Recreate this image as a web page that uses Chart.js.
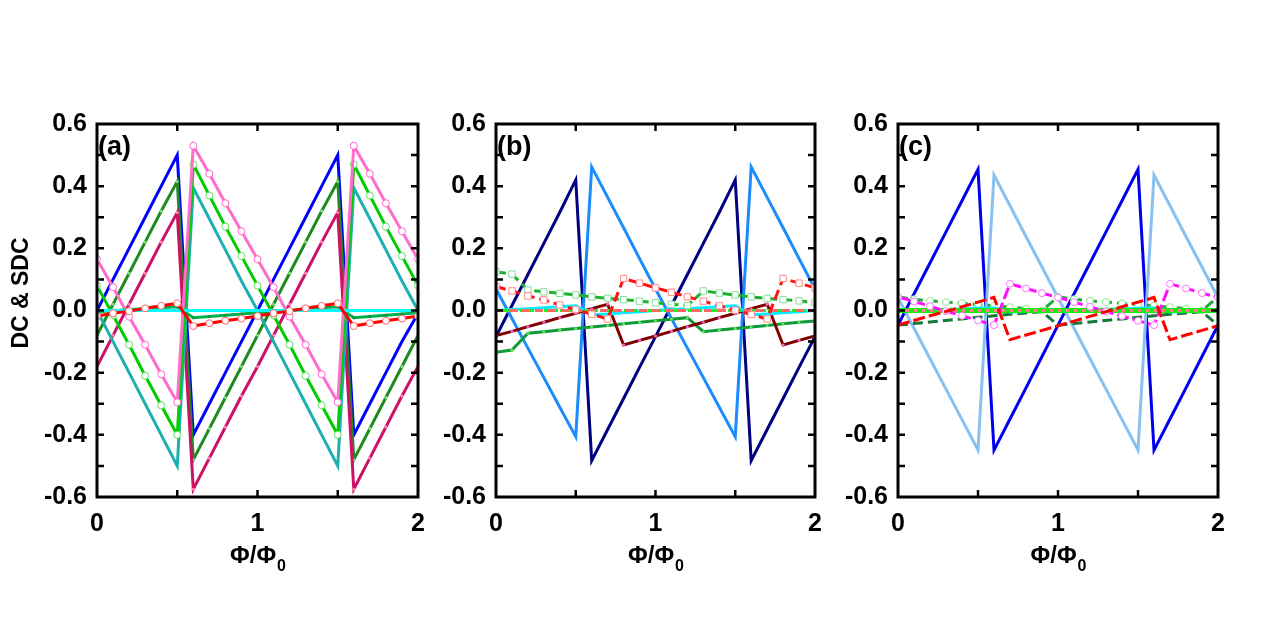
<!DOCTYPE html>
<html><head><meta charset="utf-8">
<script src="https://cdn.jsdelivr.net/npm/chart.js@4.4.0/dist/chart.umd.min.js"></script>
<style>
html,body{margin:0;padding:0;background:#fff;}
#wrap{position:relative;width:1286px;height:623px;overflow:hidden;}
canvas{position:absolute;left:0;top:0;}
</style></head><body>
<div id="wrap">
<canvas id="ca" width="1286" height="623"></canvas>
<canvas id="cb" width="1286" height="623"></canvas>
<canvas id="cc" width="1286" height="623"></canvas>
</div>
<script>
// ---------- shared axes ----------
const xValues = [0,0.1,0.2,0.3,0.4,0.5,0.6,0.7,0.8,0.9,1,1.1,1.2,1.3,1.4,1.5,1.6,1.7,1.8,1.9,2];
const xTickValues = [0,1,2];
const xTickMarks = [0.5,1,1.5];
const yTickValues = [-0.6,-0.4,-0.2,0,0.2,0.4,0.6];
const yTickMarks = [-0.5,-0.4,-0.3,-0.2,-0.1,0,0.1,0.2,0.3,0.4,0.5];
const panelLabels = ['(a)','(b)','(c)'];
const yTitle = 'DC & SDC';
const xTitleMain = 'Φ/Φ';
const xTitleSub = '0';

// ---------- panel (a) ----------
const aBlue      = [0.00,0.10,0.20,0.30,0.40,0.50,-0.40,-0.30,-0.20,-0.10,0.00,0.10,0.20,0.30,0.40,0.50,-0.40,-0.30,-0.20,-0.10,-0.01];
const aDarkGreen = [-0.08,0.02,0.12,0.22,0.32,0.415,-0.48,-0.38,-0.28,-0.18,-0.08,0.02,0.12,0.22,0.32,0.415,-0.48,-0.38,-0.28,-0.18,-0.08];
const aCrimson   = [-0.18,-0.08,0.02,0.12,0.22,0.315,-0.575,-0.475,-0.375,-0.275,-0.18,-0.08,0.02,0.12,0.22,0.315,-0.575,-0.475,-0.375,-0.275,-0.18];
const aTeal      = [0.00,-0.10,-0.20,-0.30,-0.40,-0.50,0.395,0.295,0.195,0.095,0.00,-0.10,-0.20,-0.30,-0.40,-0.50,0.395,0.295,0.195,0.095,0.00];
const aGreen     = [0.08,-0.015,-0.11,-0.21,-0.305,-0.40,0.47,0.37,0.27,0.175,0.08,-0.015,-0.11,-0.21,-0.305,-0.40,0.47,0.37,0.27,0.175,0.08];
const aPink      = [0.165,0.075,-0.02,-0.11,-0.205,-0.295,0.53,0.44,0.345,0.255,0.165,0.075,-0.02,-0.11,-0.205,-0.295,0.53,0.44,0.345,0.255,0.165];
const aRed       = [-0.018,-0.009,-0.002,0.007,0.015,0.023,-0.05,-0.041,-0.033,-0.026,-0.018,-0.009,-0.002,0.007,0.015,0.023,-0.05,-0.041,-0.033,-0.026,-0.018];
const aSeaGreen  = [-0.004,-0.001,0.003,0.006,0.009,0.012,-0.023,-0.019,-0.015,-0.011,-0.007,-0.003,0.001,0.005,0.009,0.012,-0.023,-0.019,-0.015,-0.011,-0.007];
const aCyan      = [0,0,0,0,0,0,0,0,0,0,0,0,0,0,0,0,0,0,0,0,0];

// ---------- panel (b) ----------
const bNavy      = [-0.084,0.016,0.116,0.216,0.316,0.42,-0.483,-0.383,-0.283,-0.183,-0.084,0.016,0.116,0.216,0.316,0.42,-0.483,-0.383,-0.283,-0.183,-0.084];
const bSky       = [0.069,-0.026,-0.121,-0.216,-0.311,-0.406,0.462,0.364,0.266,0.167,0.069,-0.026,-0.121,-0.216,-0.311,-0.406,0.462,0.364,0.266,0.167,0.069];
const bMaroon    = [-0.081,-0.067,-0.052,-0.038,-0.023,-0.009,0.006,0.02,-0.111,-0.096,-0.082,-0.067,-0.052,-0.038,-0.023,-0.009,0.006,0.02,-0.111,-0.096,-0.082];
const bRed       = [0.077,0.063,0.047,0.034,0.018,0.003,-0.012,-0.027,0.103,0.088,0.073,0.059,0.044,0.03,0.015,0.001,-0.013,-0.027,0.103,0.088,0.073];
const bGreenDash = [0.125,0.117,0.066,0.06,0.055,0.05,0.044,0.039,0.035,0.03,0.025,0.02,0.016,0.063,0.056,0.05,0.044,0.039,0.035,0.031,0.026];
const bGreen     = [-0.134,-0.127,-0.073,-0.068,-0.063,-0.058,-0.053,-0.048,-0.043,-0.038,-0.033,-0.028,-0.023,-0.068,-0.063,-0.058,-0.053,-0.048,-0.043,-0.038,-0.034];
const bCyan      = [0.0,0.003,0.006,0.009,0.012,0.015,-0.014,-0.011,-0.007,-0.004,0.0,0.003,0.006,0.009,0.012,0.015,-0.014,-0.011,-0.007,-0.004,0.0];
const bLime      = [0,0,0,0,0,0,0,0,0,0,0,0,0,0,0,0,0,0,0,0,0];
const bSalmon    = [0,0,0,0,0,0,0,0,0,0,0,0,0,0,0,0,0,0,0,0,0];

// ---------- panel (c) ----------
const cBlue      = [-0.047,0.053,0.153,0.253,0.353,0.454,-0.449,-0.349,-0.249,-0.148,-0.047,0.053,0.153,0.253,0.353,0.454,-0.449,-0.349,-0.249,-0.148,-0.047];
const cLightBlue = [0.041,-0.057,-0.155,-0.253,-0.351,-0.449,0.436,0.337,0.238,0.14,0.041,-0.057,-0.155,-0.253,-0.351,-0.449,0.436,0.337,0.238,0.14,0.041];
const cRed       = [-0.047,-0.032,-0.017,-0.003,0.012,0.027,0.042,-0.094,-0.079,-0.064,-0.049,-0.034,-0.019,-0.004,0.012,0.027,0.042,-0.094,-0.079,-0.064,-0.049];
const cMagenta   = [0.044,0.029,0.014,-0.002,-0.017,-0.032,-0.047,0.086,0.071,0.056,0.042,0.027,0.012,-0.003,-0.018,-0.033,-0.047,0.086,0.071,0.056,0.042];
const cGreenDash = [0.044,0.036,0.031,0.027,0.023,0.019,0.015,0.011,0.006,0.0,0.044,0.036,0.031,0.027,0.023,0.019,0.015,0.011,0.006,0.0,0.044];
const cDarkGreen = [-0.047,-0.042,-0.037,-0.032,-0.027,-0.022,-0.017,-0.012,-0.008,-0.004,-0.047,-0.042,-0.037,-0.032,-0.027,-0.022,-0.017,-0.012,-0.008,-0.004,-0.047];
const cLime      = [0,0,0,0,0,0,0,0,0,0,0,0,0,0,0,0,0,0,0,0,0];
const cCyan      = [-0.003,-0.001,0.001,0.003,0.005,0.007,0.008,-0.005,-0.003,-0.001,0.0,0.002,0.003,0.004,0.005,0.007,0.008,-0.005,-0.003,-0.001,0.0];
const cSalmon    = [0,0,0,0,0,0,0,0,0,0,0,0,0,0,0,0,0,0,0,0,0];

const FONT = '"Liberation Sans", Arial, Helvetica, sans-serif';

function ds(arr, color, extra){
  return Object.assign({
    data: xValues.map((x,i)=>({x:x, y:arr[i]})),
    borderColor: color, backgroundColor: color,
    borderWidth: 3, pointRadius: 0, tension: 0, fill: false
  }, extra||{});
}
function circles(border){ return {pointRadius:3.5, pointStyle:'circle', pointBackgroundColor:'#fff', pointBorderColor:border, pointBorderWidth:1}; }
function squares(border){ return {pointRadius:4.5, pointStyle:'rect', pointBackgroundColor:'#fff', pointBorderColor:border, pointBorderWidth:1}; }
function dots(c){ return {pointRadius:1.5, pointStyle:'circle', pointBackgroundColor:c, pointBorderColor:c, pointBorderWidth:0}; }

const framePlugin = {
  id:'frame',
  afterDatasetsDraw(chart, args, opts){
    const ctx = chart.ctx, a = chart.chartArea, x = chart.scales.x, y = chart.scales.y;
    ctx.save();
    ctx.strokeStyle = '#000';
    ctx.lineWidth = 3;
    ctx.strokeRect(a.left, a.top, a.right-a.left, a.bottom-a.top);
    ctx.lineWidth = 2.5;
    const tl = 7;
    ctx.beginPath();
    yTickMarks.forEach(v=>{
      const py = y.getPixelForValue(v);
      ctx.moveTo(a.left, py); ctx.lineTo(a.left+tl, py);
      ctx.moveTo(a.right, py); ctx.lineTo(a.right-tl, py);
    });
    xTickMarks.forEach(v=>{
      const px = x.getPixelForValue(v);
      ctx.moveTo(px, a.bottom); ctx.lineTo(px, a.bottom-tl);
      ctx.moveTo(px, a.top); ctx.lineTo(px, a.top+tl);
    });
    ctx.stroke();
    ctx.fillStyle = '#000';
    ctx.textAlign = 'left'; ctx.textBaseline = 'alphabetic';
    ctx.font = 'bold 27px ' + FONT;
    ctx.fillText(opts.label, a.left+1, a.top+31);
    // x title with subscript
    ctx.font = 'bold 24px ' + FONT;
    const w1 = ctx.measureText(xTitleMain).width;
    ctx.font = 'bold 16px ' + FONT;
    const w2 = ctx.measureText(xTitleSub).width;
    const cx = (a.left + a.right)/2;
    const sx = cx - (w1+w2)/2;
    ctx.font = 'bold 24px ' + FONT;
    ctx.fillText(xTitleMain, sx, 563);
    ctx.font = 'bold 16px ' + FONT;
    ctx.fillText(xTitleSub, sx + w1 + 1, 571);
    if (opts.yTitle){
      ctx.translate(22, 293);
      ctx.rotate(-Math.PI/2);
      ctx.textAlign = 'center'; ctx.textBaseline = 'middle';
      ctx.font = 'bold 23px ' + FONT;
      ctx.fillText(yTitle, 0, 0);
    }
    ctx.restore();
  }
};

function makeChart(id, datasets, left, right, label, withYTitle, yw){
  const Hx = 60;
  new Chart(document.getElementById(id), {
    type:'line',
    data:{datasets: datasets},
    plugins:[framePlugin],
    options:{
      responsive:false, animation:false, devicePixelRatio:1,
      layout:{padding:{left:left-yw, right:1286-right, top:124, bottom:126-Hx}},
      plugins:{legend:{display:false}, tooltip:{enabled:false}, frame:{label:label, yTitle:withYTitle}},
      scales:{
        x:{type:'linear', min:0, max:2,
          afterBuildTicks:s=>{ s.ticks = xTickValues.map(v=>({value:v})); },
          afterFit:s=>{ s.height = Hx; },
          grid:{display:false, drawTicks:false}, border:{display:false},
          ticks:{padding:12, color:'#000', maxRotation:0, autoSkip:false,
            font:{family:FONT, weight:'bold', size:25}, callback:v=>String(v)}},
        y:{type:'linear', min:-0.6, max:0.6,
          afterBuildTicks:s=>{ s.ticks = yTickValues.map(v=>({value:v})); },
          afterFit:s=>{ s.width = yw; },
          grid:{display:false, drawTicks:false}, border:{display:false},
          ticks:{padding:10, color:'#000', autoSkip:false,
            font:{family:FONT, weight:'bold', size:25}, callback:v=>Number(v).toFixed(1)}}
      }
    }
  });
}

makeChart('ca', [
  ds(aRed, '#ff0000', circles('#ff6666')),
  ds(aCyan, '#00ffff'),
  ds(aSeaGreen, '#00b050', dots('#009933')),
  ds(aPink, '#ff6ccc', circles('#ff66cc')),
  ds(aGreen, '#00cc00', circles('#66dd66')),
  ds(aTeal, '#1eb0b0'),
  ds(aCrimson, '#cc1166', dots('#ff88bb')),
  ds(aDarkGreen, '#1f8a1f', dots('#88dd88')),
  ds(aBlue, '#0000ff')
], 97, 418, panelLabels[0], true, 97);

makeChart('cb', [
  ds(bRed, '#ff1111', Object.assign({borderDash:[10,5]}, squares('#ff8888'))),
  ds(bGreenDash, '#1fb030', Object.assign({borderDash:[10,5]}, squares('#88dd99'))),
  ds(bSalmon, '#ff6666', {borderDash:[8,5]}),
  ds(bLime, '#22ee22', {borderDash:[6,2]}),
  ds(bCyan, '#00eeff'),
  ds(bMaroon, '#800000', dots('#ff66cc')),
  ds(bGreen, '#129a3a', dots('#55ee55')),
  ds(bSky, '#1a8cff'),
  ds(bNavy, '#000080')
], 496, 815, panelLabels[1], false, 60);

makeChart('cc', [
  ds(cRed, '#ff0000', {borderDash:[12,4]}),
  ds(cMagenta, '#ff11ff', Object.assign({borderDash:[12,4]}, circles('#ff77ff'))),
  ds(cSalmon, '#ff8080', {borderDash:[3,5], borderWidth:3}),
  ds(cLime, '#11ee11', {borderWidth:5}),
  ds(cCyan, '#00eeff'),
  ds(cGreenDash, '#1aaa3a', Object.assign({borderDash:[10,5]}, circles('#88ee88'))),
  ds(cDarkGreen, '#137a3a', {borderDash:[10,5]}),
  ds(cLightBlue, '#88c0f0'),
  ds(cBlue, '#0000ee')
], 898, 1218, panelLabels[2], false, 60);
</script>
</body></html>
